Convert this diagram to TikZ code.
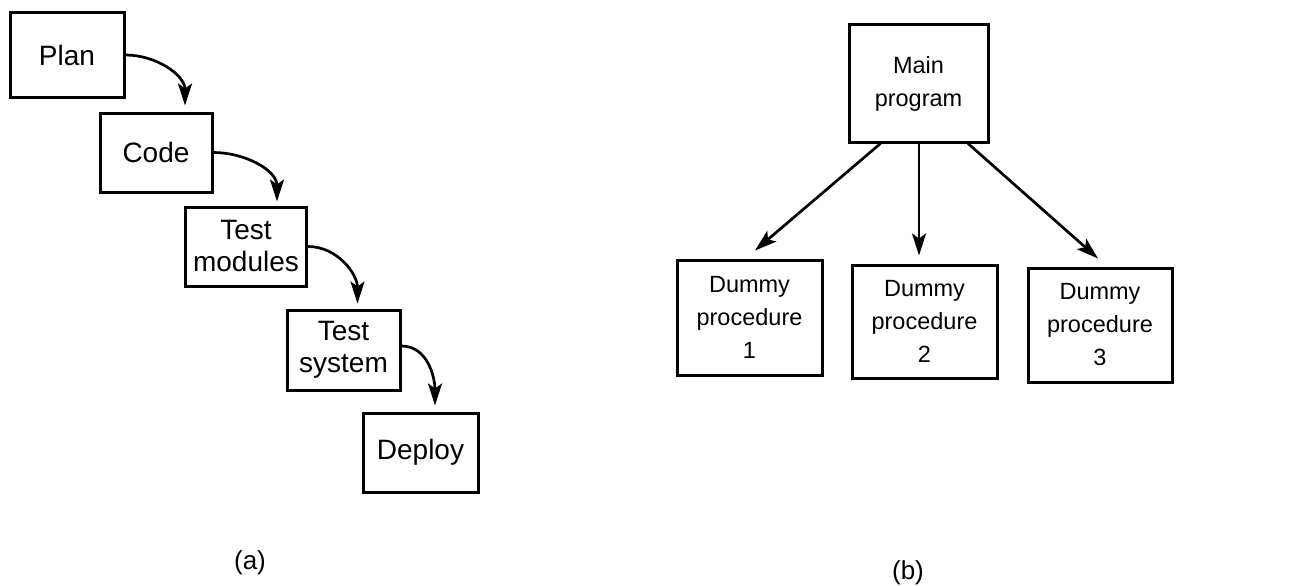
\documentclass[tikz,border=0pt]{standalone}
\usepackage{fontspec}
\setmainfont{Liberation Sans}
\usetikzlibrary{arrows.meta}
\tikzset{
  boxa/.style={draw, line width=3pt, align=center, inner sep=0pt, font=\fontsize{28}{32}\selectfont},
  boxb/.style={draw, line width=3pt, align=center, inner sep=0pt, font=\fontsize{23.5}{33}\selectfont},
  arr/.style={line width=2.7pt, -{Stealth[length=22pt,width=14pt,inset=5pt]}},
  sublabel/.style={font=\fontsize{26}{30}\selectfont}
}
\begin{document}
\begin{tikzpicture}[x=1pt,y=1pt]
\useasboundingbox (0,0) rectangle (1293,-586);
% (a)
\node[boxa, minimum width=114pt, minimum height=84pt] (plan) at (67,-55) {Plan};
\node[boxa, minimum width=112pt, minimum height=79pt] (code) at (156,-152.5) {Code};
\node[boxa, minimum width=121pt, minimum height=79pt] (mod) at (246,-246.5) {Test\\modules};
\node[boxa, minimum width=113pt, minimum height=80pt] (sys) at (343.5,-350) {Test\\system};
\node[boxa, minimum width=115pt, minimum height=79pt] (dep) at (420.5,-452.5) {Deploy};
\draw[arr] (plan.east) to[out=0,in=90] ([xshift=29pt,yshift=6pt]code.north);
\draw[arr] (code.east) to[out=0,in=90] ([xshift=31pt,yshift=4pt]mod.north);
\draw[arr] (mod.east) to[out=0,in=90] ([xshift=14pt,yshift=5pt]sys.north);
\draw[arr] ([yshift=4pt]sys.east) to[out=0,in=90] ([xshift=14.5pt,yshift=6pt]dep.north);
\node[sublabel] (la) at (250,-563) {(a)};
% (b)
\node[boxb, minimum width=139pt, minimum height=117pt] (main) at (918.5,-83.5) {Main\\program};
\node[boxb, minimum width=145pt, minimum height=115pt] (d1) at (749.5,-317.5) {Dummy\\procedure\\1};
\node[boxb, minimum width=145pt, minimum height=113pt] (d2) at (924.5,-321.5) {Dummy\\procedure\\2};
\node[boxb, minimum width=144pt, minimum height=114pt] (d3) at (1100,-325) {Dummy\\procedure\\3};
\draw[arr] ([xshift=-38pt]main.south) -- ([xshift=5.5pt,yshift=8pt]d1.north);
\draw[arr] ([xshift=0.5pt]main.south) -- ([xshift=-5.5pt,yshift=8pt]d2.north);
\draw[arr] ([xshift=49.5pt]main.south) -- ([xshift=-2pt,yshift=8pt]d3.north);
\node[sublabel] (lb) at (908,-573) {(b)};
\end{tikzpicture}
\end{document}
